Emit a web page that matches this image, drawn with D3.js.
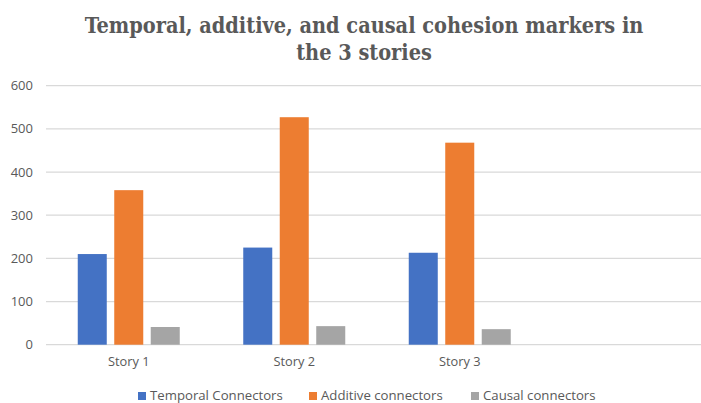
<!DOCTYPE html>
<html>
<head>
<meta charset="utf-8">
<script src="https://cdn.jsdelivr.net/npm/d3@7"></script>
<style>
  body { margin: 0; background: #fff; }
  svg text { font-family: "Open Sans", "Liberation Sans", sans-serif; fill: #595959; }
</style>
</head>
<body>
<div id="chart"></div>
<script>
// categories (the 4th slot is empty in the original chart)
var stories = ["Story 1", "Story 2", "Story 3", ""];
var seriesNames = ["Temporal Connectors", "Additive connectors", "Causal connectors"];
var temporal = [210, 225, 213];
var additive = [358, 527, 468];
var causal = [41, 43, 36];
var yTicks = [0, 100, 200, 300, 400, 500, 600];
var colors = ["#4472c4", "#ed7d31", "#a5a5a5"];

var width = 701, height = 403;
var margin = {top: 86, right: 4, bottom: 58, left: 46};

var svg = d3.select("#chart").append("svg")
    .attr("width", width)
    .attr("height", height);

// title
var title = svg.append("text")
    .attr("text-anchor", "middle")
    .style("font-family", "'DejaVu Serif', serif")
    .style("font-stretch", "condensed")
    .style("font-weight", "bold")
    .style("font-size", "21.5px");
title.append("tspan").attr("x", 364).attr("y", 33)
    .text("Temporal, additive, and causal cohesion markers in");
title.append("tspan").attr("x", 364).attr("y", 60)
    .text("the 3 stories");

var x = d3.scaleBand()
    .domain(stories)
    .range([margin.left, margin.left + 662]);

var y = d3.scaleLinear()
    .domain([0, 600])
    .range([344.7, 85.7]);

var x1 = d3.scaleBand()
    .domain(seriesNames)
    .range([0, x.bandwidth()])
    .paddingInner(0.205)
    .paddingOuter(0.87);

// grid
svg.append("g")
    .selectAll("line")
    .data(yTicks)
    .enter().append("line")
    .attr("x1", margin.left)
    .attr("x2", width)
    .attr("y1", function(d) { return y(d); })
    .attr("y2", function(d) { return y(d); })
    .attr("stroke", "#d9d9d9")
    .attr("stroke-width", 1.3);

// y labels
svg.append("g")
    .selectAll("text")
    .data(yTicks)
    .enter().append("text")
    .attr("x", 33)
    .attr("y", function(d) { return y(d); })
    .attr("dy", "0.35em")
    .attr("text-anchor", "end")
    .style("font-size", "13px")
    .text(function(d) { return d; });

// bars
var series = [temporal, additive, causal];
var groups = svg.append("g")
    .selectAll("g")
    .data(seriesNames)
    .enter().append("g")
    .attr("fill", function(d, i) { return colors[i]; });

groups.selectAll("rect")
    .data(function(name, i) {
        return series[i].map(function(v, j) { return {story: stories[j], name: name, value: v}; });
    })
    .enter().append("rect")
    .attr("x", function(d) { return x(d.story) + x1(d.name); })
    .attr("y", function(d) { return y(d.value); })
    .attr("width", x1.bandwidth())
    .attr("height", function(d) { return y(0) - y(d.value); });

// x labels
svg.append("g")
    .selectAll("text")
    .data(stories.filter(function(s) { return s !== ""; }))
    .enter().append("text")
    .attr("x", function(d) { return x(d) + x.bandwidth() / 2; })
    .attr("y", 366)
    .attr("text-anchor", "middle")
    .style("font-size", "12.8px")
    .text(function(d) { return d; });

// legend
var legendX = [138, 309, 471];
var legend = svg.append("g")
    .selectAll("g")
    .data(seriesNames)
    .enter().append("g")
    .attr("transform", function(d, i) { return "translate(" + legendX[i] + ",393)"; });

legend.append("rect")
    .attr("y", -1)
    .attr("width", 8)
    .attr("height", 8)
    .attr("fill", function(d, i) { return colors[i]; });

legend.append("text")
    .attr("x", 12)
    .attr("y", 7)
    .style("font-size", "13.2px")
    .text(function(d) { return d; });
</script>
</body>
</html>
